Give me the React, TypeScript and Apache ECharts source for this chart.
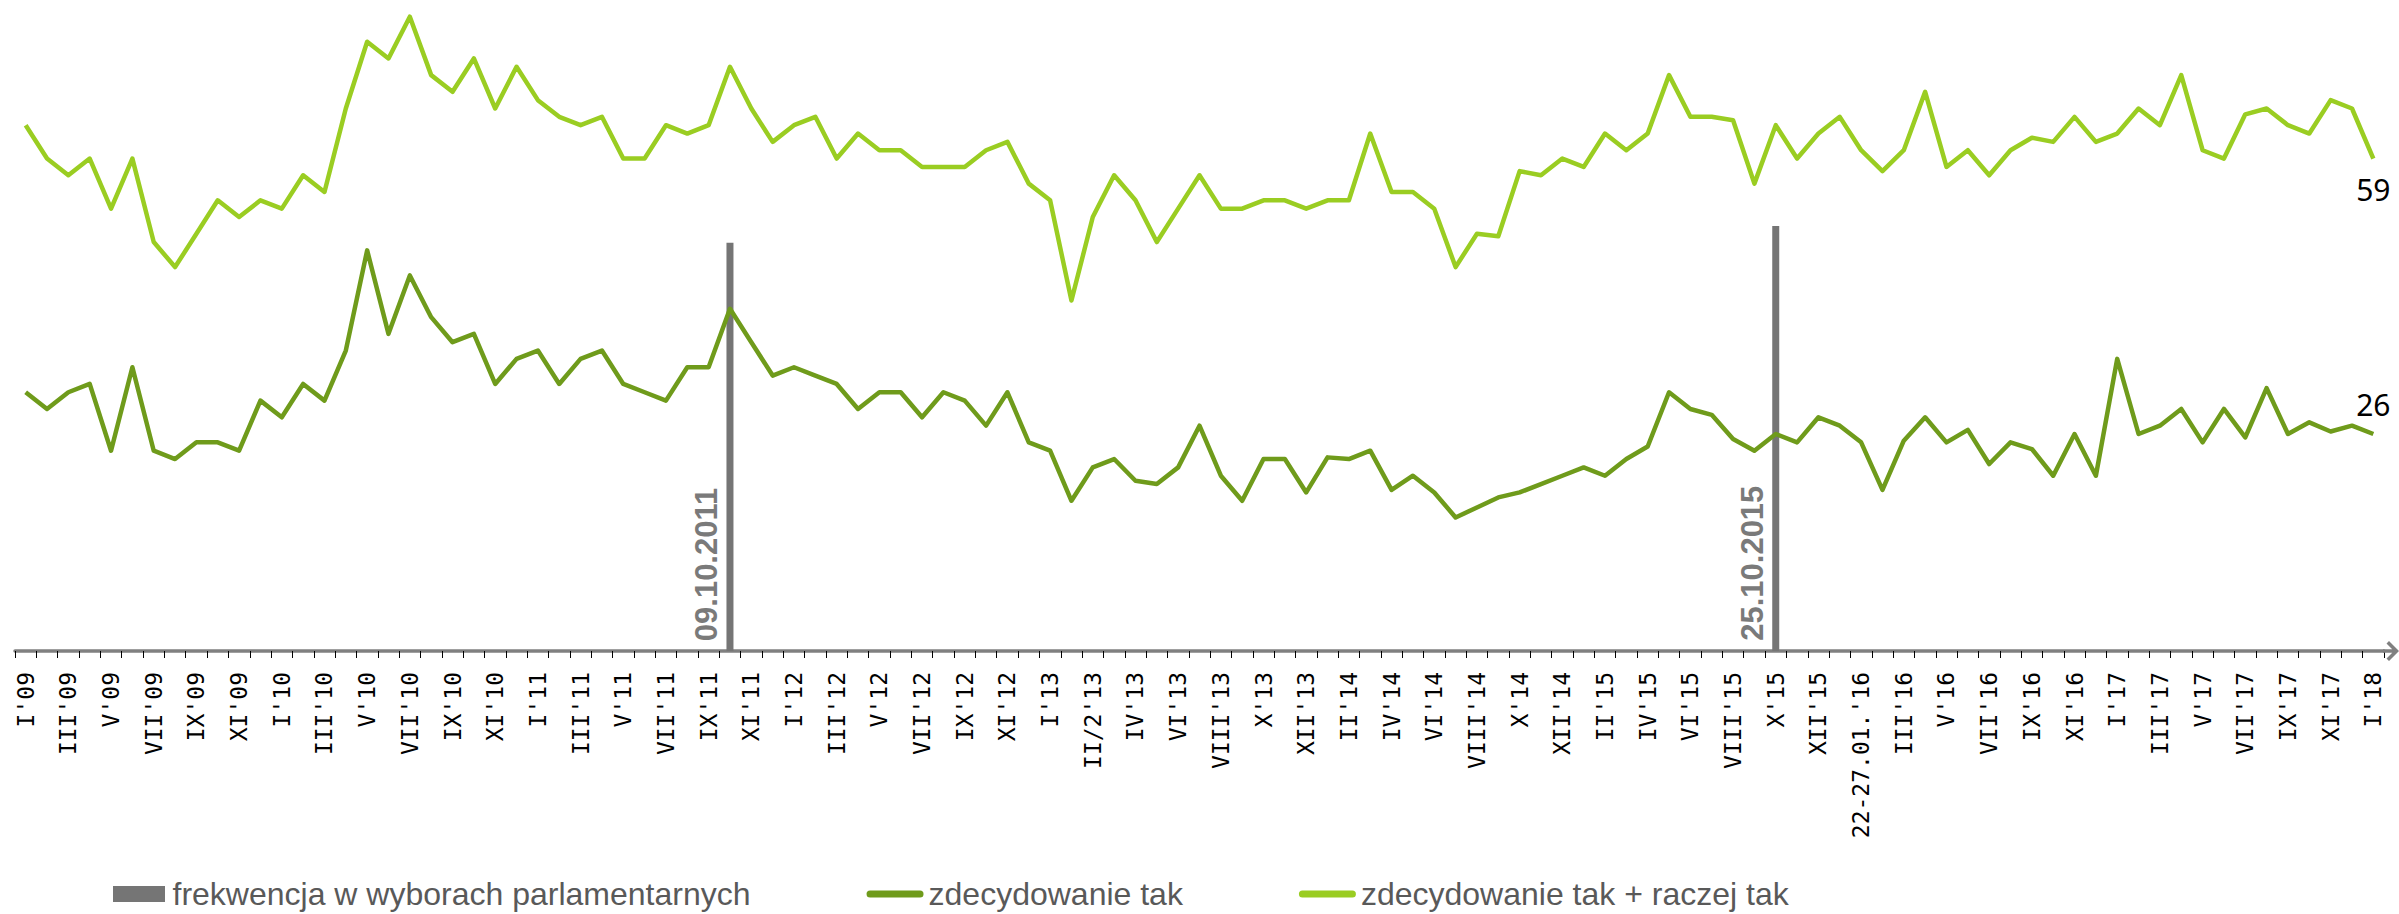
import React, { useEffect, useRef } from "react";
import * as echarts from "echarts";

const categories: string[] = [
  "I'09", "II'09", "III'09", "IV'09", "V'09", "VI'09", "VII'09", "VIII'09", "IX'09", "X'09", "XI'09", "XII'09",
  "I'10", "II'10", "III'10", "IV'10", "V'10", "VI'10", "VII'10", "VIII'10", "IX'10", "X'10", "XI'10", "XII'10",
  "I'11", "II'11", "III'11", "IV'11", "V'11", "VI'11", "VII'11", "VIII'11", "IX'11", "X'11", "XI'11", "XII'11",
  "I'12", "II'12", "III'12", "IV'12", "V'12", "VI'12", "VII'12", "VIII'12", "IX'12", "X'12", "XI'12", "XII'12",
  "I'13", "II/1'13", "II/2'13", "III'13", "IV'13", "V'13", "VI'13", "VII'13", "VIII'13", "IX'13", "X'13", "XI'13", "XII'13",
  "I'14", "II'14", "III'14", "IV'14", "V'14", "VI'14", "VII'14", "VIII'14", "IX'14", "X'14", "XI'14", "XII'14",
  "I'15", "II'15", "III'15", "IV'15", "V'15", "VI'15", "VII'15", "VIII'15", "IX'15", "X'15", "XI'15", "XII'15",
  "I'16", "22-27.01.'16", "II'16", "III'16", "IV'16", "V'16", "VI'16", "VII'16", "VIII'16", "IX'16", "X'16", "XI'16", "XII'16",
  "I'17", "II'17", "III'17", "IV'17", "V'17", "VI'17", "VII'17", "VIII'17", "IX'17", "X'17", "XI'17", "XII'17",
  "I'18",
];

// zdecydowanie tak + raczej tak
const definitelyOrRatherYes: number[] = [
  63, 59, 57, 59, 53, 59, 49, 46, 50, 54, 52, 54,
  53, 57, 55, 65, 73, 71, 76, 69, 67, 71, 65, 70,
  66, 64, 63, 64, 59, 59, 63, 62, 63, 70, 65, 61,
  63, 64, 59, 62, 60, 60, 58, 58, 58, 60, 61, 56,
  54, 42, 52, 57, 54, 49, 53, 57, 53, 53, 54, 54, 53,
  54, 54, 62, 55, 55, 53, 46, 50, 49.7, 57.5, 57, 59,
  58, 62, 60, 62, 69, 64, 64, 63.6, 56, 63, 59, 62,
  64, 60, 57.5, 60, 67, 58, 60, 57, 60, 61.5, 61, 64, 61,
  62, 65, 63, 69, 60, 59, 64.3, 65, 63, 62, 66, 65,
  59,
];

// zdecydowanie tak
const definitelyYes: number[] = [
  31, 29, 31, 32, 24, 34, 24, 23, 25, 25, 24, 30,
  28, 32, 30, 36, 48, 38, 45, 40, 37, 38, 32, 35,
  36, 32, 35, 36, 32, 31, 30, 34, 34, 41, 37, 33,
  34, 33, 32, 29, 31, 31, 28, 31, 30, 27, 31, 25,
  24, 18, 22, 23, 20.4, 20, 22, 27, 21, 18, 23, 23, 19,
  23.2, 23, 24, 19.3, 21, 19, 16, 17.2, 18.4, 19, 20, 21,
  22, 21, 23, 24.5, 31, 29, 28.3, 25.4, 24, 26, 25, 28,
  27, 25, 19.3, 25.2, 28, 25, 26.5, 22.4, 25, 24.2, 21, 26, 21,
  35, 26, 27, 29, 25, 29, 25.6, 31.5, 26, 27.4, 26.3, 27,
  26,
];

// frekwencja w wyborach parlamentarnych
const electionCategories: string[] = ["X'11", "X'15"];
const electionTurnout: number[] = [48.92, 50.92];
const electionDates: string[] = ["09.10.2011", "25.10.2015"];

const seriesNames = [
  "frekwencja w wyborach parlamentarnych",
  "zdecydowanie tak",
  "zdecydowanie tak + raczej tak",
];

const COLOR_BAR = "#757575";
const COLOR_DARK = "#6f9b1b";
const COLOR_LIGHT = "#9acd22";

export default function App() {
  const ref = useRef<HTMLDivElement>(null);

  useEffect(() => {
    if (!ref.current) return;
    const chart = echarts.init(ref.current, undefined, { renderer: "svg" });

    const barData = categories.map((c) => {
      const k = electionCategories.indexOf(c);
      if (k < 0) return "-";
      return {
        value: electionTurnout[k],
        label: {
          show: true,
          formatter: electionDates[k],
          rotate: 90,
          position: [-4, "97.6%"],
          align: "left",
          verticalAlign: "bottom",
          color: "#7a7a7a",
          fontSize: 31,
          fontWeight: "bold",
          fontFamily: "Liberation Sans",
        },
      };
    });

    const lastLabel = (pos: string, dist: number) => ({
      show: true,
      position: pos,
      distance: dist,
      color: "#000",
      fontSize: 30,
      fontFamily: "Noto Sans",
    });

    const lightData = definitelyOrRatherYes.map((v, i) =>
      i === definitelyOrRatherYes.length - 1 ? { value: v, label: lastLabel("bottom", 16) } : v
    );
    const darkData = definitelyYes.map((v, i) =>
      i === definitelyYes.length - 1 ? { value: v, label: lastLabel("top", 15) } : v
    );

    const barIcon = "path://M0,0h52v16h-52z";
    const lineIcon = "path://M3.5,0h50a3.5,3.5,0,0,1,0,7h-50a3.5,3.5,0,0,1,0,-7z";

    const lineBase = {
      type: "line",
      symbol: "circle",
      symbolSize: 0,
      showSymbol: true,
      showAllSymbol: true,
      label: { show: false },
    };

    chart.setOption({
      animation: false,
      backgroundColor: "#ffffff",
      grid: { left: 15, right: 15, top: 0, bottom: 263, containLabel: false },
      legend: {
        left: 108,
        top: 873,
        itemWidth: 57,
        itemHeight: 16,
        itemGap: 116,
        symbolKeepAspect: true,
        textStyle: { color: "#595959", fontSize: 32, fontFamily: "Liberation Sans" },
        data: [
          { name: seriesNames[0], icon: barIcon },
          { name: seriesNames[1], icon: lineIcon },
          { name: seriesNames[2], icon: lineIcon },
        ],
      },
      xAxis: {
        type: "category",
        data: categories,
        boundaryGap: true,
        axisLine: {
          show: true,
          symbol: ["none", "path://M10,0L20,10L17.5,12.5L11.75,6.75L11.75,16L8.25,16L8.25,6.75L2.5,12.5L0,10Z"],
          symbolSize: [20, 16],
          symbolOffset: [0, 7],
          lineStyle: { color: "#808080", width: 3.5 },
        },
        axisTick: { show: true, interval: 0, length: 7, lineStyle: { color: "#000", width: 1 } },
        axisLabel: {
          interval: 1,
          rotate: 90,
          margin: 21,
          color: "#000",
          fontSize: 23,
          fontFamily: "DejaVu Sans Mono",
        },
        splitLine: { show: false },
      },
      yAxis: {
        type: "value",
        min: 0,
        max: 78,
        show: false,
        splitLine: { show: false },
      },
      series: [
        {
          name: seriesNames[0],
          type: "bar",
          data: barData,
          barWidth: 7,
          itemStyle: { color: COLOR_BAR },
        },
        {
          ...lineBase,
          name: seriesNames[1],
          data: darkData,
          color: COLOR_DARK,
          itemStyle: { color: COLOR_DARK },
          lineStyle: { color: COLOR_DARK, width: 4.5, join: "round" },
        },
        {
          ...lineBase,
          name: seriesNames[2],
          data: lightData,
          color: COLOR_LIGHT,
          itemStyle: { color: COLOR_LIGHT },
          lineStyle: { color: COLOR_LIGHT, width: 4.5, join: "round" },
        },
      ],
    });

    return () => chart.dispose();
  }, []);

  return (
    <div
      ref={ref}
      style={{ position: "absolute", left: 0, top: 0, width: "2399px", height: "914px", background: "#fff" }}
    />
  );
}
